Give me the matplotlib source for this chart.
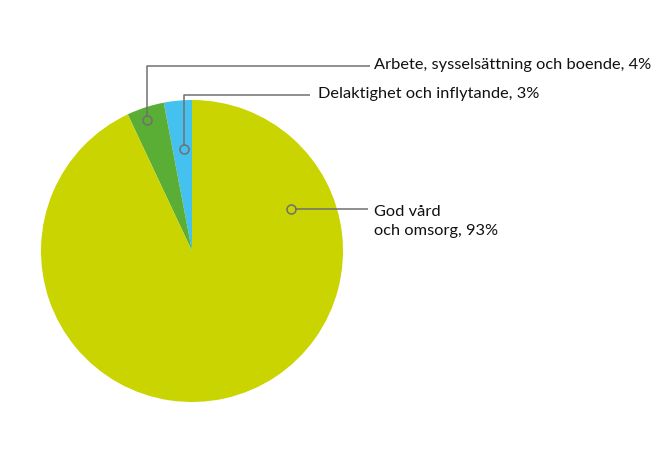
import matplotlib
matplotlib.use('Agg')
import matplotlib.pyplot as plt

labels = ['Delaktighet och inflytande, 3%', 'Arbete, sysselsättning och boende, 4%', 'God vård\noch omsorg, 93%']
values = [3, 4, 93]
colors = ['#44C1EF', '#5BAE35', '#C9D400']

W, H = 671, 472
fig = plt.figure(figsize=(W / 100, H / 100), dpi=100)
ax = fig.add_axes([0, 0, 1, 1])

cx, cy, r = 192, H - 251, 151
ax.pie(values, colors=colors, startangle=90, counterclock=True,
       center=(cx, cy), radius=r, frame=True,
       wedgeprops=dict(linewidth=0))
ax.set_xlim(0, W)
ax.set_ylim(0, H)
ax.set_aspect('equal')
ax.axis('off')

grey = '#707070'
# marker point, leader path, text anchor (image pixels)
anno = [
    ((184, 149), [(184, 95), (310, 95)], (318, 94)),
    ((147, 120), [(147, 66), (370, 66)], (374, 65)),
    ((291, 209), [(368, 209)], (374, 221.5)),
]
for lab, (p, path, tp) in zip(labels, anno):
    if len(path) > 1:
        xs = [p[0]] + [q[0] for q in path]
        ys = [H - p[1] + 3.5] + [H - q[1] for q in path]
    else:
        xs = [p[0] + 3.5, path[0][0]]
        ys = [H - p[1], H - path[0][1]]
    ax.plot(xs, ys, color=grey, lw=1.1, solid_capstyle='butt')
    ax.plot(p[0], H - p[1], 'o', ms=6.5, mfc='none', mec=grey, mew=1.1)
    ax.text(tp[0], H - tp[1], lab, fontsize=11.8, family='Lato', color='#111111',
            va='center', ha='left', linespacing=1.39)

fig.savefig('out.png', dpi=100)
